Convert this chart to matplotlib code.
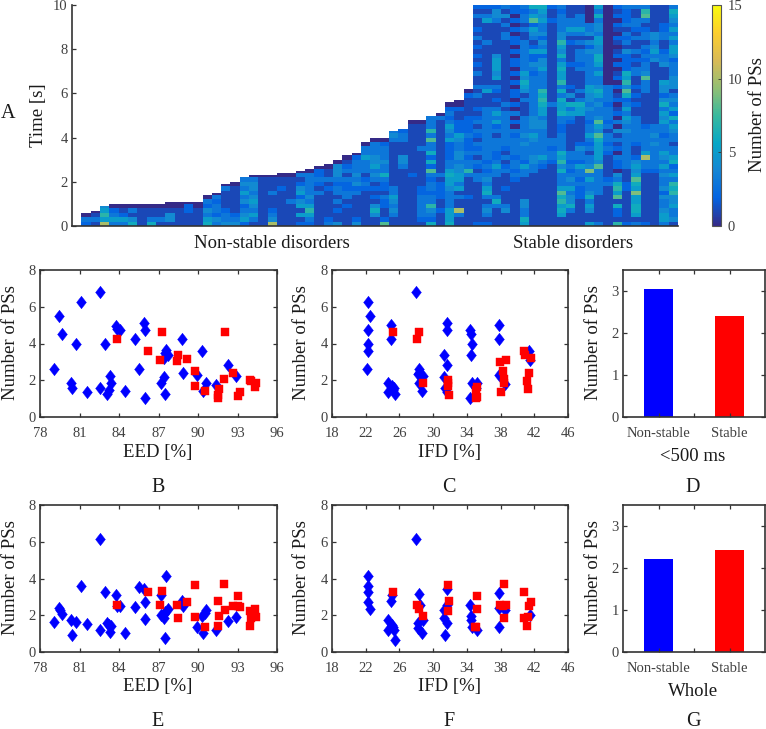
import numpy as np
import matplotlib
matplotlib.use("Agg")
import matplotlib.pyplot as plt
from matplotlib.colors import LinearSegmentedColormap

plt.rcParams['font.family'] = ['Liberation Serif', 'DejaVu Serif']

W, H = 766, 729

# ---- heat map data: each string is one recording, bottom to top, 0.2 s per character (hex = PS count)
column_ends = [0.6,0.7,0.9,1.0,1.0,1.0,1.0,1.0,1.0,1.1,1.1,1.1,1.1,1.4,1.5,1.9,2.0,2.2,2.3,2.3,2.3,2.4,
               2.4,2.5,2.6,2.7,2.8,3.0,3.2,3.3,3.8,4.0,4.0,4.3,4.4,4.8,4.8,5.0,5.1,5.6,5.7,6.2] + [10.0]*22
nonstable_cols = [
 "230","1310","a5754","35320","35210","64130","11110","63110","13110","144100","111100","111220","111100",
 "6534230","34233230","4332111130","4321111110",
 "254324353430","135345434430","111111111110","a43211131110","111111112110","111113111110",
 "2151542542130","2357534333330","11111113123220","32111111213110","411213133234440",
 "1111213322313210","42111113243433320","1111111123213335330","11464121213435443330",
 "82112231223633433320","1134345331111111111343 0","11111111111113441113320",
 "111111111112111111111110","123333322111111113111110","623473323323826263383733320",
 "11121122221311111111111130","6555333345565332222534532320","113a1131535544344334522211 20",
 "1111112111137332322232222111120",
]
stable_cols = [
 "2111111111331231323123132 1211313113121212131211312",
 "2134313653432323333333333 3311153111111111311115312",
 "1111363111133532233313253 5312123154555411111113442",
 "1114311121113213123333333 3131111111111111133131413",
 "1111111111232332333323020 3020220202022020220202022",
 "5633441111133523334343333 1113145645333333311313323",
 "1111111111113344333453444 3333333332342252134528536",
 "1111111111111235333333443 5567673333544253424335456",
 "1111111111111123323311111 1131111111111111111112112",
 "1156576853336475633332233 6556363755653645744333323",
 "1113644353432323311111123 5361412111121111213533111",
 "1111112223233523342111111 5563131111323331313533311",
 "5114536433539433132353323 3434455333333342414330000",
 "3111111333333845555684584 3343564335356644553443635",
 "1111111113211111232331323 3323333000000000000000000",
 "7122618576340223021314030 2102102021020210120120212",
 "2111111122111333333334345 3532684756222241323132223",
 "3156655956854542112333333 1121212113312131131233113",
 "2111111111112 33a533333211 1111133384332323133213873",
 "1111111111112333334343311 1111111111114354344111111",
 "3554334243343534533323354 5364244511143321133221111",
 "1433544767353265331334536 2534314443332455353534563",
]
# ---- scatter data
eed_ns_b = [79.07,79.45,79.65,80.36,80.46,80.7,81.12,81.58,82.54,82.54,82.97,83.08,83.25,83.35,83.43,83.8,83.84,84.04,84.47,85.23,85.54,85.92,85.94,86.0,87.2,87.4,87.5,87.4,87.6,87.5,87.75,88.76,88.86,89.95,90.28,90.36,90.64,91.35,92.3,92.9]
pss_ns_b = [2.6,5.5,4.5,1.87,1.57,3.96,6.25,1.34,6.82,1.6,3.96,1.25,1.48,2.24,1.83,4.96,4.78,4.74,1.43,4.22,2.59,5.1,4.74,1.01,1.83,2.19,1.27,3.2,3.66,3.47,3.38,4.22,2.41,2.3,3.6,1.39,1.85,1.76,2.84,2.23]
eed_s_b = [83.86,86.2,87.24,87.1,88.5,88.4,89.2,89.78,89.8,90.54,91.6,91.53,91.53,91.95,92.05,92.67,93.03,93.2,93.96,94.0,94.38,94.3]
pss_s_b = [4.25,3.6,4.6,3.08,3.35,3.04,3.17,2.52,1.7,1.39,1.54,1.21,1.01,2.08,4.65,2.39,1.12,1.36,2.03,1.94,1.85,1.63]

ifd_ns_c = [22.25,22.45,22.25,22.25,22.25,22.2,24.6,24.7,25.1,25.4,25.05,25.0,25.5,25.2,27.96,28.3,28.15,28.35,28.75,28.3,28.7,31.6,31.6,31.3,31.6,31.3,31.4,31.6,34.35,34.5,34.6,34.5,34.6,34.35,35.2,35.1,37.8,37.8,37.8,38.5,41.35,41.5]
pss_ns_c = [6.25,5.5,4.76,4.0,3.6,2.59,1.85,1.34,1.67,1.57,4.98,4.22,1.25,1.48,6.82,2.6,2.33,2.39,2.24,1.83,1.39,5.1,4.74,3.38,2.84,2.19,1.57,1.34,4.74,4.5,3.96,3.38,1.83,1.01,1.83,1.57,5.0,4.22,2.26,1.8,3.6,3.11]
ifd_s_c = [25.2,28.08,28.35,28.8,31.8,31.8,31.9,31.8,35.05,35.2,35.05,35.2,37.96,38.67,38.28,38.4,38.4,38.1,40.83,40.87,41.6,41.35,41.1,41.3]
pss_s_c = [4.6,4.25,4.62,1.83,2.03,1.7,1.18,1.85,1.48,1.61,1.03,1.07,3.02,3.08,2.5,2.08,1.85,1.36,3.57,3.38,3.19,2.39,1.97,1.54]

eed_ns_e = [79.07,79.45,79.5,79.65,80.36,80.46,80.7,81.12,81.58,82.54,82.54,82.97,83.08,83.25,83.43,83.35,83.8,83.84,84.04,84.47,85.23,85.54,85.92,85.94,86.0,87.2,87.2,87.4,87.5,87.4,87.6,87.5,87.75,88.76,88.86,89.95,90.28,90.36,90.64,90.5,91.35,92.3,92.9]
pss_ns_e = [1.63,2.41,2.26,2.05,1.72,0.9,1.61,3.58,1.5,6.15,1.21,3.26,1.57,1.48,1.39,1.07,3.11,2.53,2.48,1.05,2.44,3.53,3.42,2.72,1.79,3.11,1.99,1.85,0.76,2.08,4.11,2.15,2.33,2.75,2.53,1.34,1.97,1.03,2.26,2.12,1.21,1.67,1.9]
eed_s_e = [83.86,86.2,87.24,87.1,88.4,88.5,89.2,89.78,89.78,90.54,91.53,91.6,91.53,91.95,92.05,92.67,93.03,93.03,93.2,93.96,94.0,93.95,94.3,94.4]
pss_s_e = [2.55,3.29,3.31,2.57,2.57,1.86,2.7,3.66,1.88,1.36,2.8,1.94,1.39,3.71,2.28,2.48,3.04,2.48,2.46,2.21,1.85,1.41,2.33,1.92]

ifd_ns_f = [22.25,22.25,22.25,22.25,22.45,24.6,24.7,25.1,25.4,25.5,25.1,25.0,25.2,28.3,28.4,28.15,28.15,28.7,28.8,27.96,31.6,31.6,31.3,31.3,31.65,31.45,34.35,34.5,34.5,34.6,35.2,37.8,37.8,37.8,38.5,41.5]
pss_ns_f = [4.11,3.57,3.26,2.72,2.33,1.72,1.18,1.48,1.21,0.67,3.11,2.75,1.36,3.15,2.57,1.57,1.3,1.03,1.75,6.15,3.42,2.57,2.3,1.85,1.57,0.9,2.57,1.97,1.75,1.36,1.18,3.2,1.36,2.39,2.3,2.03]
ifd_s_f = [25.2,28.08,28.35,28.8,31.8,31.9,31.8,35.25,35.2,34.95,35.1,38.35,37.96,38.67,38.28,38.35,40.83,41.6,41.35,40.83,41.3,41.1]
pss_s_f = [3.29,2.55,2.33,1.94,3.66,2.8,2.21,3.06,2.33,1.36,1.36,3.71,2.57,2.57,2.48,1.86,3.29,2.71,2.48,1.85,1.9,1.41]

bar_labels = ["Non-stable", "Stable"]
bars_d = [3.05, 2.4]
bars_g = [2.22, 2.42]

# ---- style
DARK = '#333333'
TICK = '#404040'
FS_TICK, FS_LAB, FS_LET = 10.5, 13.5, 14.5
parula = LinearSegmentedColormap.from_list('parula',
    ['#352a87','#0363e1','#1485d4','#06a7c6','#38b99e','#92bf73','#d9ba56','#fcce2e','#f9fb0e'])
WIDE_DIAMOND = [(0, 1), (0.78, 0), (0, -1), (-0.78, 0), (0, 1)]

fig = plt.figure(figsize=(W/100, H/100), dpi=100)

def axpx(l, t, r, b):
    return fig.add_axes([l/W, 1-b/H, (r-l)/W, (b-t)/H])

def label(x, y, s, size=FS_LAB, rot=0, color='#1a1a1a'):
    fig.text(x/W, 1-y/H, s, fontsize=size, rotation=rot, ha='center', va='center', color=color)

def style(ax):
    for s in ax.spines.values():
        s.set_color(DARK); s.set_linewidth(1.2)
    ax.tick_params(direction='in', length=3, width=0.9, color=DARK, labelcolor=TICK,
                   labelsize=FS_TICK, pad=3)
    ax.tick_params(axis='x', pad=7)

# ---- heat map
rows_per_cell = 4
n_rows = 50 * rows_per_cell
time_edges = np.linspace(0, 10, n_rows + 1)
all_cols = nonstable_cols + stable_cols
grid = np.full((n_rows, len(all_cols)), np.nan)
for j, (txt, end) in enumerate(zip(all_cols, column_ends)):
    digits = [int(c, 16) for c in "".join(txt.split())]
    digits = (digits + [0] * 50)[:50]
    col = np.repeat(digits, rows_per_cell).astype(float)
    col[time_edges[:-1] >= end - 1e-6] = np.nan
    grid[:, j] = col

ax = axpx(72, 5, 678, 226)
mesh = ax.pcolormesh(np.arange(1, len(all_cols) + 2), time_edges, np.ma.masked_invalid(grid),
                     cmap=parula, vmin=0, vmax=15, shading='flat', rasterized=True)
ax.set_xlim(0, 65); ax.set_ylim(0, 10)
ax.set_xticks([]); ax.set_yticks([0, 2, 4, 6, 8, 10])
style(ax)
ax.spines['top'].set_visible(False); ax.spines['right'].set_visible(False)

cax = axpx(712, 5, 721, 226)
cb = fig.colorbar(mesh, cax=cax, ticks=[0, 5, 10, 15])
cb.outline.set_edgecolor('#555555'); cb.outline.set_linewidth(0.8)
cax.tick_params(direction='in', length=2, width=0.6, color=DARK, labelcolor=TICK, labelsize=FS_TICK, pad=5)

label(8, 113, "A", FS_LET)
label(38, 115, "Time [s]", FS_LAB, 90)
label(758, 115, "Number of PSs", FS_LAB, 90)
label(272, 244, "Non-stable disorders")
label(573, 244, "Stable disorders")

# ---- scatter panels
def scatter(box, xn, yn, xs, ys, xlim, xticks):
    a = axpx(*box)
    a.plot(xn, yn, linestyle='none', marker=WIDE_DIAMOND, ms=9.0, color='#0000ff', mec='#0000ff', mew=0.3)
    a.plot(xs, ys, linestyle='none', marker='s', ms=5.3, color='#ff0000', mec='#ff0000', mew=0.3)
    a.set_xlim(*xlim); a.set_ylim(0, 8)
    a.set_xticks(xticks); a.set_yticks([0, 2, 4, 6, 8])
    style(a)
    a.tick_params(top=True, right=True)
    return a

eed_ticks = [78, 81, 84, 87, 90, 93, 96]
ifd_ticks = [18, 22, 26, 30, 34, 38, 42, 46]
scatter((40, 270, 277, 417), eed_ns_b, pss_ns_b, eed_s_b, pss_s_b, (78, 96), eed_ticks)
scatter((332, 270, 568, 417), ifd_ns_c, pss_ns_c, ifd_s_c, pss_s_c, (18, 46), ifd_ticks)
scatter((40, 505, 277, 652), eed_ns_e, pss_ns_e, eed_s_e, pss_s_e, (78, 96), eed_ticks)
scatter((332, 505, 568, 652), ifd_ns_f, pss_ns_f, ifd_s_f, pss_s_f, (18, 46), ifd_ticks)

# ---- bar panels
def bars(box, vals):
    a = axpx(*box)
    a.bar([1, 2], vals, width=0.4, color=['#0000ff', '#ff0000'])
    a.set_xlim(0.5, 2.5); a.set_ylim(0, 3.5)
    a.set_xticks([1, 1.5, 2]); a.set_xticklabels([bar_labels[0], "", bar_labels[1]])
    a.set_yticks([0, 1, 2, 3])
    style(a)
    a.tick_params(top=True, right=True)
    return a

bars((623, 270, 765, 417), bars_d)
bars((623, 505, 765, 652), bars_g)

# ---- axis labels and letters
for y in (343, 578):
    label(11, y, "Number of PSs", FS_LAB, 90)
    label(302, y, "Number of PSs", FS_LAB, 90)
    label(593, y, "Number of PSs", FS_LAB, 90)
for x, s in [(158, "EED [%]"), (449, "IFD [%]")]:
    label(x, 452, s); label(x, 687, s)
label(693, 456, "<500 ms"); label(693, 691, "Whole")
for x, top, bot in [(158, "B", "E"), (449, "C", "F"), (693, "D", "G")]:
    label(x, 488, top, FS_LET); label(x, 721, bot, FS_LET)

fig.savefig("out.png", dpi=100)
